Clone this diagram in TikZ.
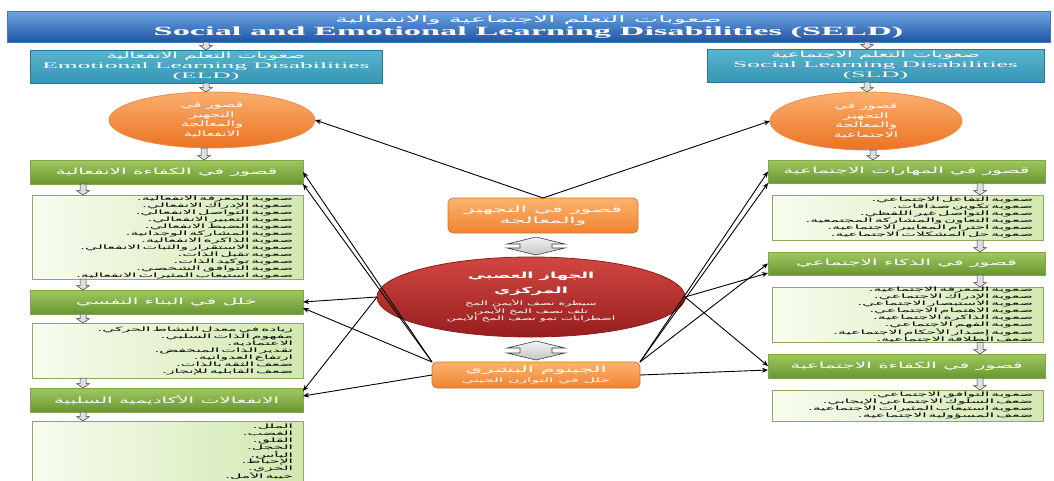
\documentclass[tikz,border=0pt]{standalone}
\usepackage{fontspec}
\usetikzlibrary{shapes.geometric,arrows.meta,calc}
\TeXXeTstate=1
\newfontfamily\arab[Script=Arabic,FakeStretch=2.1]{DejaVu Sans}
\newfontfamily\arabH[Script=Arabic,FakeStretch=2.35]{DejaVu Sans}
\newfontfamily\arabL[Script=Arabic,FakeStretch=2.6]{DejaVu Sans}
\newfontfamily\arabT[Script=Arabic,FakeStretch=2.9]{DejaVu Sans}
\newfontfamily\engS[FakeStretch=3.0]{Liberation Serif}
\newfontfamily\engT[FakeStretch=2.75]{Liberation Serif}
\newcommand\AR[1]{\beginR#1\endR}
\definecolor{tTop}{RGB}{110,165,225}
\definecolor{tBot}{RGB}{30,85,165}
\definecolor{tBor}{RGB}{70,120,190}
\definecolor{teTop}{RGB}{90,180,205}
\definecolor{teBot}{RGB}{55,150,180}
\definecolor{teBor}{RGB}{40,120,150}
\definecolor{oTop}{RGB}{250,175,110}
\definecolor{oBot}{RGB}{235,115,35}
\definecolor{oBor}{RGB}{240,140,70}
\definecolor{gTop}{RGB}{160,200,95}
\definecolor{gBot}{RGB}{105,150,50}
\definecolor{gBor}{RGB}{130,165,80}
\definecolor{lL}{RGB}{248,252,240}
\definecolor{lR}{RGB}{210,232,175}
\definecolor{lBor}{RGB}{140,170,100}
\definecolor{cTop}{RGB}{251,180,110}
\definecolor{cBot}{RGB}{240,130,50}
\definecolor{cBor}{RGB}{215,115,40}
\definecolor{rTop}{RGB}{210,70,65}
\definecolor{rBot}{RGB}{150,30,30}
\definecolor{rBor}{RGB}{140,30,30}
\newcommand\dnblk[2]{\path[blk] let \p1=#1, \p2=#2 in (\x1-3pt,\y1) -- (\x1-3pt,\y2+4.5pt) -- (\x1-6.5pt,\y2+4.5pt) -- (\x1,\y2) -- (\x1+6.5pt,\y2+4.5pt) -- (\x1+3pt,\y2+4.5pt) -- (\x1+3pt,\y1) -- cycle;}
\newcommand\udblk[2]{\path[blk2] let \p1=#1, \p2=#2 in (\x1,\y1-4pt) -- (\x1+29pt,\y1-11pt) -- (\x1+16pt,\y1-11pt) -- (\x1+16pt,\y2+9pt) -- (\x1+29pt,\y2+9pt) -- (\x1,\y2+2pt) -- (\x1-29pt,\y2+9pt) -- (\x1-16pt,\y2+9pt) -- (\x1-16pt,\y1-11pt) -- (\x1-29pt,\y1-11pt) -- cycle;}
\begin{document}
\begin{tikzpicture}[x=1pt,y=-1pt,
  every node/.style={inner sep=0pt, outer sep=0pt},
  titlebox/.style={top color=tTop, bottom color=tBot, draw=tBor, line width=0.6pt, text=white, align=center},
  tealbox/.style={top color=teTop, bottom color=teBot, draw=teBor, line width=0.6pt, text=white, align=center, font=\fontsize{8.5}{10}\selectfont},
  oval/.style={ellipse, top color=oTop, bottom color=oBot, draw=oBor, line width=0.8pt, text=white, align=center, font=\arab\fontsize{7.5}{9.5}\selectfont},
  hdr/.style={anchor=north west, top color=gTop, bottom color=gBot, draw=gBor, line width=0.6pt, text=white, align=center, font=\arabH\fontsize{8.5}{10}\selectfont},
  lst/.style={anchor=north west, left color=lL, right color=lR, draw=lBor, line width=0.6pt, text=black, align=right, inner xsep=10pt, text width=251pt, font=\arabL\fontsize{6}{7}\selectfont},
  cbox/.style={anchor=north west, rounded corners=5pt, top color=cTop, bottom color=cBot, draw=cBor, line width=0.7pt, text=white, align=center, font=\arabL\fontsize{8.5}{11}\selectfont},
  redov/.style={ellipse, top color=rTop, bottom color=rBot, draw=rBor, line width=0.8pt, text=white, align=center, font=\arab\fontsize{6}{7.5}\selectfont},
  arr/.style={draw=black, line width=0.9pt, -{Stealth[length=6pt,width=5pt]}},
  blk/.style={fill=gray!25, draw=gray!45!black, line width=0.5pt},
  blk2/.style={top color=gray!10, bottom color=gray!45, draw=gray!50!black, line width=0.6pt}
]
\useasboundingbox (0,0) rectangle (1054,480);
\fill[white] (0,0) rectangle (1054,480);

\coordinate (xL0) at (206,0);
\coordinate (xR0) at (867,0);
\coordinate (xL1) at (204,0);
\coordinate (xR1) at (873,0);
\coordinate (xL2) at (83,0);
\coordinate (xR2) at (980,0);
\coordinate (xC) at (536,0);

% title
\node[titlebox, anchor=north west, minimum width=1043, minimum height=31, font=\fontsize{9}{12}\selectfont] (title) at (7,11)
  {{\arabT\AR{صعوبات التعلم الاجتماعية والانفعالية}}\\[1pt]
   {\engT\bfseries\fontsize{12.5}{14}\selectfont Social and Emotional Learning Disabilities (SELD)}};

% level 1
\node[tealbox, anchor=north west, minimum width=352, minimum height=33] (eld) at (30,50)
  {{\arabH\AR{صعوبات التعلم الانفعالية}}\\ {\engS Emotional Learning Disabilities}\\ {\engS (ELD)}};
\node[tealbox, anchor=north west, minimum width=337, minimum height=33] (sld) at (707,49)
  {{\arabH\AR{صعوبات التعلم الاجتماعية}}\\ {\engS Social Learning Disabilities}\\ {\engS (SLD)}};

% ellipses
\node[oval, minimum width=206, minimum height=56] (eL) at (212,120)
  {\AR{قصور في}\\ \AR{التجهيز}\\ \AR{والمعالجة}\\ \AR{الانفعالية}};
\node[oval, minimum width=192, minimum height=58] (eR) at (866,121)
  {\AR{قصور في}\\ \AR{التجهيز}\\ \AR{والمعالجة}\\ \AR{الاجتماعية}};

% left column
\node[hdr, minimum width=273, minimum height=24] (gL1) at (30,160) {\AR{قصور في الكفاءة الانفعالية}};
\node[lst, minimum height=84] (lL1) at (32,195)
  {\AR{صعوبة المعرفة الانفعالية.}\\ \AR{صعوبة الإدراك الانفعالي.}\\ \AR{صعوبة التواصل الانفعالي.}\\
   \AR{صعوبة التعبير الانفعالي.}\\ \AR{صعوبة الضبط الانفعالي.}\\ \AR{صعوبة المشاركة الوجدانية.}\\
   \AR{صعوبة الذاكرة الانفعالية.}\\ \AR{صعوبة الاستقرار والثبات الانفعالي.}\\ \AR{صعوبة تقبل الذات.}\\
   \AR{صعوبة توكيد الذات.}\\ \AR{صعوبة التوافق الشخصي.}\\ \AR{صعوبة استيعاب المثيرات الانفعالية.}};
\node[hdr, minimum width=273, minimum height=24] (gL2) at (30,290) {\AR{خلل في البناء النفسي}};
\node[lst, minimum height=55] (lL2) at (32,323)
  {\AR{زيادة في معدل النشاط الحركي.}\\ \AR{مفهوم الذات السلبي.}\\ \AR{الاعتمادية.}\\
   \AR{تقدير الذات المنخفض.}\\ \AR{ارتفاع العدوانية.}\\ \AR{ضعف الثقة بالذات.}\\ \AR{ضعف القابلية للإنجاز.}};
\node[hdr, minimum width=273, minimum height=24] (gL3) at (30,388) {\AR{الانفعالات الأكاديمية السلبية}};
\node[lst, minimum height=62, font=\arabL\fontsize{6}{6.8}\selectfont] (lL3) at (32,421)
  {\AR{الملل.}\\ \AR{الغضب.}\\ \AR{القلق.}\\ \AR{الخجل.}\\ \AR{اليأس.}\\ \AR{الإحباط.}\\ \AR{الخزي.}\\ \AR{خيبة الأمل.}};

% right column
\node[hdr, minimum width=277, minimum height=23] (gR1) at (768,160) {\AR{قصور في المهارات الاجتماعية}};
\node[lst, minimum height=45] (lR1) at (772,195)
  {\AR{صعوبة التفاعل الاجتماعي.}\\ \AR{صعوبة تكوين صداقات.}\\ \AR{صعوبة التواصل غير اللفظي.}\\
   \AR{صعوبة التعاون والمشاركة المجتمعية.}\\ \AR{صعوبة احترام المعايير الاجتماعية.}\\ \AR{صعوبة حل المشكلات الاجتماعية.}};
\node[hdr, minimum width=277, minimum height=23] (gR2) at (768,252) {\AR{قصور في الذكاء الاجتماعي}};
\node[lst, minimum height=55] (lR2) at (772,287)
  {\AR{صعوبة المعرفة الاجتماعية.}\\ \AR{صعوبة الإدراك الاجتماعي.}\\ \AR{صعوبة الاستبصار الاجتماعي.}\\
   \AR{صعوبة الاهتمام الاجتماعي.}\\ \AR{صعوبة الذاكرة الاجتماعية.}\\ \AR{صعوبة الفهم الاجتماعي.}\\
   \AR{صعوبة إصدار الأحكام الاجتماعية.}\\ \AR{ضعف الطلاقة الاجتماعية.}};
\node[hdr, minimum width=277, minimum height=24] (gR3) at (768,354) {\AR{قصور في الكفاءة الاجتماعية}};
\node[lst, minimum height=31] (lR3) at (772,390)
  {\AR{صعوبة التوافق الاجتماعي.}\\ \AR{ضعف السلوك الاجتماعي الإيجابي.}\\
   \AR{صعوبة استيعاب المثيرات الاجتماعية.}\\ \AR{ضعف المسؤولية الاجتماعية.}};

% centre
\node[cbox, minimum width=190, minimum height=35] (c1) at (448,198)
  {\AR{قصور في التجهيز}\\ \AR{والمعالجة}};
\node[redov, minimum width=308, minimum height=80] (red) at (531,297)
  {{\bfseries\fontsize{8.5}{10}\selectfont\AR{الجهاز العصبي}}\\[6pt]
   {\bfseries\fontsize{8.5}{10}\selectfont\AR{المركزي}}\\[3pt]
   \AR{سيطرة نصف الأيمن المخ}\\ \AR{تلف نصف المخ الأيمن}\\ \AR{اضطرابات نمو نصف المخ الأيمن}};
\node[cbox, minimum width=208, minimum height=26, font=\arabL\fontsize{8.5}{9.5}\selectfont] (bot) at (432,362)
  {\AR{الجينوم البشري}\\ {\fontsize{6}{8}\selectfont\AR{خلل في التوازن الجيني}}};

% block connectors
\dnblk{(title.south -| xL0)}{(eld.north -| xL0)}
\dnblk{(title.south -| xR0)}{(sld.north -| xR0)}
\dnblk{(eld.south -| xL0)}{(eL.north -| xL0)}
\dnblk{(sld.south -| xR0)}{(eR.north -| xR0)}
\dnblk{(eL.south -| xL1)}{(gL1.north -| xL1)}
\dnblk{(eR.south -| xR1)}{(gR1.north -| xR1)}
\dnblk{(gL1.south -| xL2)}{(lL1.north -| xL2)}
\dnblk{(lL1.south -| xL2)}{(gL2.north -| xL2)}
\dnblk{(gL2.south -| xL2)}{(lL2.north -| xL2)}
\dnblk{(lL2.south -| xL2)}{(gL3.north -| xL2)}
\dnblk{(gL3.south -| xL2)}{(lL3.north -| xL2)}
\dnblk{(gR1.south -| xR2)}{(lR1.north -| xR2)}
\dnblk{(lR1.south -| xR2)}{(gR2.north -| xR2)}
\dnblk{(gR2.south -| xR2)}{(lR2.north -| xR2)}
\dnblk{(lR2.south -| xR2)}{(gR3.north -| xR2)}
\dnblk{(gR3.south -| xR2)}{(lR3.north -| xR2)}
\udblk{(c1.south -| xC)}{(red.north -| xC)}
\udblk{(red.south -| xC)}{(bot.north -| xC)}

% arrows
\draw[arr] (c1.north) -- (eL.east);
\draw[arr] (c1.north) -- (eR.west);
\draw[arr] (bot.north west) -- (gL1.east);
\draw[arr] (bot.north west) -- (gL1.south east);
\draw[arr] (red.west) -- (gL2.east);
\draw[arr] (bot.north west) -- ([yshift=-6pt]gL2.east);
\draw[arr] (red.west) -- ([yshift=-3pt]gL3.north east);
\draw[arr] (bot.west) -- ([yshift=-8pt]gL3.north east);
\draw[arr] (bot.north east) -- (gR1.west);
\draw[arr] (bot.north east) -- (gR1.south west);
\draw[arr] (bot.north east) -- (gR2.west);
\draw[arr] (red.east) -- ([yshift=2pt]gR2.south west);
\draw[arr] (red.east) -- (gR3.west);
\draw[arr] (bot.east) -- ([yshift=-4pt]gR3.west);
\end{tikzpicture}
\end{document}
